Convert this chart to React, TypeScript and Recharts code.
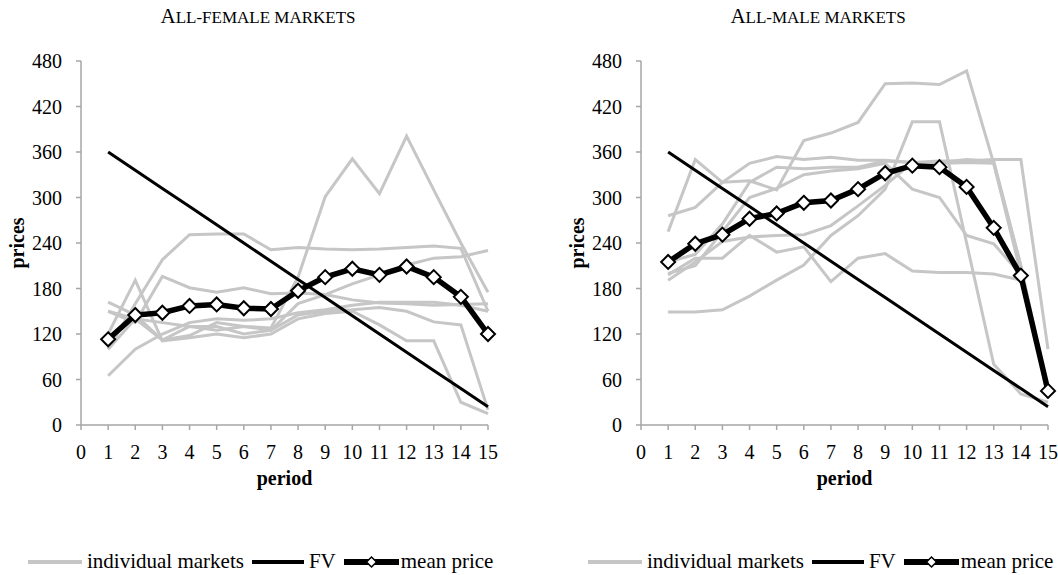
import React from 'react';
import { LineChart, Line, XAxis, YAxis, Legend } from 'recharts';

const FONT = "'Liberation Serif', 'Times New Roman', serif";
const GRAY = '#c6c6c6';
const AXIS = '#a6a6a6';

const periods = [1, 2, 3, 4, 5, 6, 7, 8, 9, 10, 11, 12, 13, 14, 15];
const xTicks = [0, 1, 2, 3, 4, 5, 6, 7, 8, 9, 10, 11, 12, 13, 14, 15];
const yTicks = [0, 60, 120, 180, 240, 300, 360, 420, 480];
const legendOrder = ['m0', 'fv', 'mean'];

// fundamental value, same in both treatments
const fvPrices = [360, 336, 312, 288, 264, 240, 216, 192, 168, 144, 120, 96, 72, 48, 24];

// all-female markets
const femaleMean = [113, 145, 148, 157, 159, 154, 153, 177, 195, 206, 198, 209, 195, 169, 120];
const femaleM1 = [150, 140, 112, 118, 135, 130, 128, 195, 301, 351, 305, 381, 310, 240, 175];
const femaleM2 = [100, 160, 218, 251, 252, 252, 231, 234, 232, 231, 232, 234, 236, 233, 150];
const femaleM3 = [162, 145, 112, 130, 125, 130, 125, 160, 172, 186, 198, 211, 220, 222, 230];
const femaleM4 = [150, 135, 196, 181, 175, 181, 173, 174, 172, 165, 161, 160, 158, 159, 160];
const femaleM5 = [120, 191, 111, 115, 120, 115, 120, 140, 147, 150, 132, 111, 111, 30, 15];
const femaleM6 = [100, 140, 135, 130, 130, 120, 125, 145, 150, 152, 155, 150, 136, 132, 20];
const femaleM7 = [65, 100, 120, 135, 140, 138, 140, 148, 152, 158, 162, 162, 162, 158, 150];

// all-male markets
const maleMean = [215, 239, 251, 272, 279, 293, 296, 311, 332, 342, 340, 314, 260, 197, 45];
const maleM1 = [276, 287, 320, 345, 354, 350, 353, 349, 349, 346, 348, 348, 350, 350, 100];
const maleM2 = [255, 350, 320, 322, 310, 375, 385, 399, 450, 451, 449, 467, 345, 200, 40];
const maleM3 = [215, 225, 265, 320, 340, 338, 340, 340, 348, 346, 345, 346, 345, 210, 45];
const maleM4 = [149, 149, 152, 170, 191, 211, 250, 276, 311, 400, 400, 240, 80, 41, 30];
const maleM5 = [198, 220, 220, 250, 228, 235, 189, 220, 226, 203, 201, 201, 199, 191, 45];
const maleM6 = [191, 215, 242, 248, 250, 251, 263, 289, 316, 346, 346, 350, 348, 210, 35];
const maleM7 = [200, 210, 255, 300, 312, 330, 335, 338, 345, 311, 300, 250, 239, 198, 45];

const femaleMarkets = [femaleM1, femaleM2, femaleM3, femaleM4, femaleM5, femaleM6, femaleM7];
const maleMarkets = [maleM1, maleM2, maleM3, maleM4, maleM5, maleM6, maleM7];

const diamondDot = (props: any) => {
  const { cx, cy, index } = props;
  if (cx == null || cy == null) return <g key={`d-${index}`} />;
  const r = 7;
  return (
    <polygon
      key={`d-${index}`}
      points={`${cx},${cy - r} ${cx + r},${cy} ${cx},${cy + r} ${cx - r},${cy}`}
      fill="#fff"
      stroke="#000"
      strokeWidth={2}
    />
  );
};

const YTitle = (props: any) => {
  const vb = props.viewBox || { x: 21, y: 61, width: 60, height: 364 };
  const x = vb.x - 4;
  const y = vb.y + vb.height / 2;
  return (
    <text x={x} y={y} transform={`rotate(-90, ${x}, ${y})`} textAnchor="middle" dominantBaseline="central"
      style={{ fontFamily: FONT }} fontSize={20} fontWeight="bold" fill="#000">
      prices
    </text>
  );
};

const XTitle = (props: any) => {
  const vb = props.viewBox || { x: 81, y: 425, width: 407, height: 30 };
  return (
    <text x={vb.x + vb.width / 2} y={vb.y + 53} textAnchor="middle" dominantBaseline="central"
      style={{ fontFamily: FONT }} fontSize={20} fontWeight="bold" fill="#000">
      period
    </text>
  );
};

const legendIcon = (key: string) => {
  if (key === 'fv') {
    return (
      <svg width={52} height={12} style={{ marginRight: 5 }}>
        <line x1={0} y1={6} x2={52} y2={6} stroke="#000" strokeWidth={4} />
      </svg>
    );
  }
  if (key === 'mean') {
    return (
      <svg width={55} height={14} style={{ marginRight: 2 }}>
        <line x1={0} y1={7} x2={55} y2={7} stroke="#000" strokeWidth={6} />
        <polygon points="27.5,2 32.5,7 27.5,12 22.5,7" fill="#fff" stroke="#000" strokeWidth={1.5} />
      </svg>
    );
  }
  return (
    <svg width={54} height={12} style={{ marginRight: 5 }}>
      <line x1={0} y1={6} x2={54} y2={6} stroke={GRAY} strokeWidth={4} />
    </svg>
  );
};

const LegendContent = (props: any) => {
  const payload = props.payload || [];
  const items = legendOrder
    .map((key) => payload.find((p: any) => String(p.dataKey) === key))
    .filter(Boolean);
  return (
    <div style={{ display: 'flex', alignItems: 'center', fontFamily: FONT, fontSize: 21, whiteSpace: 'nowrap' }}>
      {items.map((p: any) => (
        <div key={String(p.dataKey)} style={{ display: 'flex', alignItems: 'center', marginRight: 8 }}>
          {legendIcon(String(p.dataKey))}
          <span>{p.value}</span>
        </div>
      ))}
    </div>
  );
};

function MarketChart({ left, rest, markets, mean }: { left: number; rest: string; markets: number[][]; mean: number[] }) {
  const data = periods.map((p, i) => {
    const row: any = { period: p, fv: fvPrices[i], mean: mean[i] };
    markets.forEach((m, k) => {
      row[`m${k}`] = m[i];
    });
    return row;
  });

  return (
    <div style={{ position: 'absolute', left, top: 0, width: 530, height: 575, fontFamily: FONT }}>
      <div style={{ position: 'absolute', left: 0, top: 6, width: 516, textAlign: 'center', fontFamily: FONT, lineHeight: '21px', color: '#000' }}>
        <span style={{ fontSize: 21 }}>A</span>
        <span style={{ fontSize: 17 }}>{rest}</span>
      </div>
      <LineChart width={530} height={575} data={data} margin={{ top: 61, right: 42, bottom: 120, left: 21 }} style={{ fontFamily: FONT }}>
        <XAxis
          dataKey="period"
          type="number"
          domain={[0, 15]}
          ticks={xTicks}
          interval={0}
          stroke={AXIS}
          axisLine={{ stroke: AXIS, strokeWidth: 1.5 }}
          tickLine={{ stroke: AXIS, strokeWidth: 1.5 }}
          tickSize={5}
          tickMargin={15}
          height={30}
          tick={{ fill: '#000', fontSize: 20, fontFamily: FONT }}
          label={{ value: 'period', content: XTitle }}
        />
        <YAxis
          type="number"
          domain={[0, 480]}
          ticks={yTicks}
          interval={0}
          width={60}
          stroke={AXIS}
          axisLine={{ stroke: AXIS, strokeWidth: 1.5 }}
          tickLine={{ stroke: AXIS, strokeWidth: 1.5 }}
          tickSize={5}
          tickMargin={14}
          tick={{ fill: '#000', fontSize: 20, fontFamily: FONT }}
          label={{ value: 'prices', content: YTitle }}
        />
        {markets.map((_, k) => (
          <Line
            key={k}
            type="linear"
            dataKey={`m${k}`}
            name="individual markets"
            stroke={GRAY}
            strokeWidth={3}
            dot={false}
            activeDot={false}
            legendType={k === 0 ? 'line' : 'none'}
            isAnimationActive={false}
          />
        ))}
        <Line type="linear" dataKey="fv" name="FV" stroke="#000" strokeWidth={3} dot={false} activeDot={false} isAnimationActive={false} />
        <Line type="linear" dataKey="mean" name="mean price" stroke="#000" strokeWidth={5.5} dot={diamondDot} activeDot={false} isAnimationActive={false} />
        <Legend
          layout="horizontal"
          align="center"
          verticalAlign="middle"
          content={LegendContent}
          wrapperStyle={{ position: 'absolute', top: 549, left: 28, width: 'auto', height: 24 }}
        />
      </LineChart>
    </div>
  );
}

export default function App() {
  return (
    <div style={{ position: 'absolute', left: 0, top: 0, width: 1058, height: 575, overflow: 'hidden', background: '#fff' }}>
      <MarketChart left={0} rest="LL-FEMALE MARKETS" markets={femaleMarkets} mean={femaleMean} />
      <MarketChart left={560} rest="LL-MALE MARKETS" markets={maleMarkets} mean={maleMean} />
    </div>
  );
}
